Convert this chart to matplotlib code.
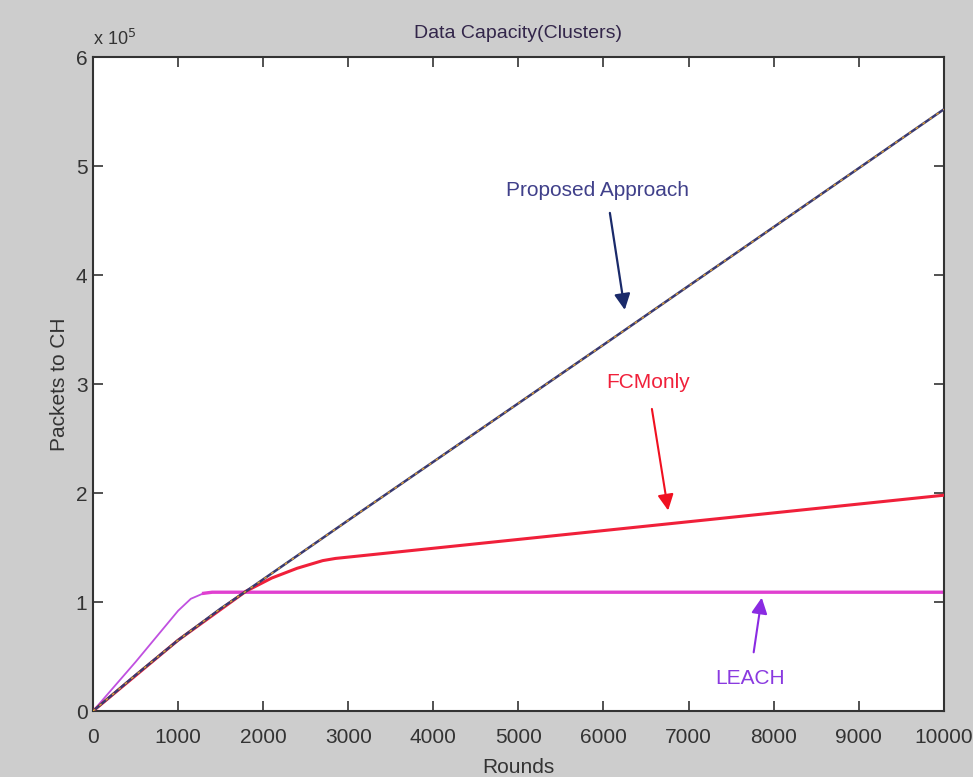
import numpy as np
import matplotlib
matplotlib.use("Agg")
from matplotlib import pyplot as plt
from matplotlib.ticker import FuncFormatter

# values (packets, rounds)
prop_x = [0, 500, 1000, 1500, 1800, 3000, 6000, 10000]
prop_y = [0, 0.33e5, 0.65e5, 0.94e5, 1.10e5, 1.75e5, 3.36e5, 5.52e5]

fcm_x = [0, 1000, 1800, 2100, 2400, 2700, 2850, 10000]
fcm_y = [0, 0.65e5, 1.10e5, 1.22e5, 1.31e5, 1.38e5, 1.40e5, 1.98e5]

leach_x = [0, 500, 1000, 1150, 1300, 1400, 10000]
leach_y = [0, 0.45e5, 0.92e5, 1.03e5, 1.08e5, 1.09e5, 1.09e5]

x_ticks = list(range(0, 10001, 1000))
y_ticks = [0, 1e5, 2e5, 3e5, 4e5, 5e5, 6e5]

plt.rcParams['font.family'] = ['Liberation Sans', 'DejaVu Sans']

fig = plt.figure(figsize=(9.73, 7.77), dpi=100)
fig.patch.set_facecolor('#cdcdcd')
ax = fig.add_axes([0.0956, 0.0849, 0.8744, 0.8417])
ax.set_facecolor('white')

# LEACH: thin rising part, thick flat part
ax.plot(leach_x[:6], leach_y[:6], color='#c050e0', lw=1.3, zorder=2)
ax.plot(leach_x[4:], leach_y[4:], color='#e040d0', lw=2.4, zorder=2)
ax.plot(fcm_x, fcm_y, color='#f0203a', lw=2.2, zorder=3)
ax.plot(prop_x, prop_y, color='#3a3a70', lw=1.8, zorder=4)
ax.plot(prop_x, prop_y, color='#e0a030', lw=1.0, ls=(0, (2, 4)), zorder=5)

ax.set_xlim(0, 10000)
ax.set_ylim(0, 6e5)
ax.set_xticks(x_ticks)
ax.set_yticks(y_ticks)
ax.yaxis.set_major_formatter(FuncFormatter(lambda v, p: '%d' % round(v / 1e5)))
ax.tick_params(direction='in', top=True, right=True, length=7, width=1.2,
               labelsize=15, colors='#333333')
ax.tick_params(axis='x', pad=12)
ax.tick_params(axis='y', pad=4)
for s in ax.spines.values():
    s.set_color('#333333')
    s.set_linewidth(1.5)

ax.set_xlabel('Rounds', fontsize=15, color='#333333', labelpad=8)
ax.set_ylabel('Packets to CH', fontsize=15, color='#333333', labelpad=5)
ax.set_title('Data Capacity(Clusters)', fontsize=14, color='#33264a', pad=14)
ax.text(0.0, 1.012, r'x 10$^5$', transform=ax.transAxes, fontsize=13,
        color='#333333', ha='left', va='bottom')

ax.text(5934, 4.78e5, 'Proposed Approach', fontsize=15, color='#40408a',
        ha='center', va='center')
ax.annotate('', xy=(6250, 3.68e5), xytext=(6075, 4.57e5),
            arrowprops=dict(arrowstyle='-|>', color='#1a2a6a', lw=1.6,
                            mutation_scale=24, shrinkA=0, shrinkB=0))
ax.annotate('FCMonly', xy=(6760, 1.84e5), xytext=(6520, 3.01e5),
            fontsize=15, color='#f0203a', ha='center', va='center',
            arrowprops=dict(arrowstyle='-|>', color='#f01020', lw=1.5,
                            mutation_scale=24, shrinkA=10, shrinkB=0))
ax.annotate('LEACH', xy=(7860, 1.04e5), xytext=(7720, 0.30e5),
            fontsize=15, color='#8a3ae0', ha='center', va='center',
            arrowprops=dict(arrowstyle='-|>', color='#8a2be2', lw=1.5,
                            mutation_scale=24, shrinkA=10, shrinkB=0))

fig.savefig('out.png', dpi=100, facecolor=fig.get_facecolor())
